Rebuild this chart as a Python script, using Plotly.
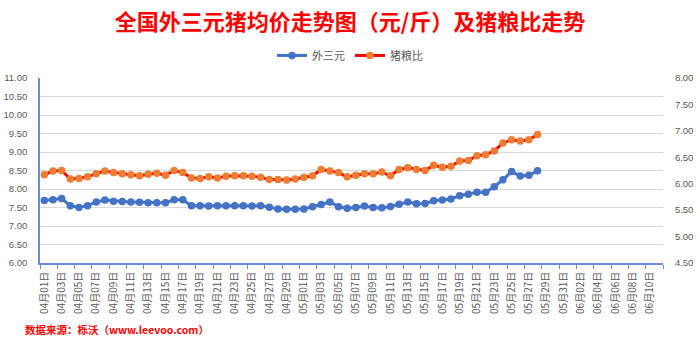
import plotly.graph_objects as go
import pandas as pd

# Categories: 04-01 .. 06-11
dates = [d.strftime("%m月%d日") for d in pd.date_range("2023-04-01", "2023-06-11")]

# 外三元 均价 (元/斤), 04-01 .. 05-28
price = [7.69, 7.71, 7.74, 7.55, 7.50, 7.55, 7.65, 7.70, 7.67, 7.66,
         7.65, 7.64, 7.63, 7.63, 7.63, 7.71, 7.71, 7.55, 7.55, 7.54,
         7.55, 7.55, 7.55, 7.55, 7.54, 7.55, 7.51, 7.46, 7.45, 7.45,
         7.46, 7.52, 7.58, 7.65, 7.52, 7.48, 7.50, 7.54, 7.50, 7.49,
         7.53, 7.59, 7.65, 7.60, 7.61, 7.68, 7.70, 7.73, 7.82, 7.86,
         7.91, 7.91, 8.06, 8.25, 8.47, 8.35, 8.37, 8.49]

# 猪粮比
ratio = [6.17, 6.24, 6.25, 6.09, 6.10, 6.13, 6.19, 6.24, 6.21, 6.19,
         6.17, 6.15, 6.18, 6.20, 6.16, 6.25, 6.21, 6.11, 6.10, 6.13,
         6.11, 6.14, 6.15, 6.15, 6.14, 6.12, 6.08, 6.08, 6.07, 6.09,
         6.12, 6.15, 6.27, 6.24, 6.21, 6.13, 6.16, 6.19, 6.19, 6.22,
         6.15, 6.27, 6.30, 6.27, 6.25, 6.35, 6.31, 6.33, 6.43, 6.44,
         6.53, 6.55, 6.62, 6.77, 6.83, 6.81, 6.83, 6.93]

title_text = "全国外三元猪均价走势图（元/斤）及猪粮比走势"
source_text = "数据来源：栎沃（www.leevoo.com）"

FONT = "Liberation Sans, Noto Sans CJK SC, sans-serif"
CJK = "Noto Sans CJK SC, sans-serif"
GRAY = "#595959"
AXIS_BLUE = "#6A8ED6"
CLEAR = "rgba(0,0,0,0)"

fig = go.Figure()
fig.add_trace(go.Scatter(
    x=dates[:len(price)], y=price, name="外三元", mode="lines+markers",
    line=dict(color="#4472C4", width=3),
    marker=dict(color="#4472C4", size=7.5, line=dict(width=0)),
    yaxis="y"))
fig.add_trace(go.Scatter(
    x=dates[:len(ratio)], y=ratio, name="猪粮比", mode="lines+markers",
    line=dict(color="#FF0000", width=3),
    marker=dict(color="#ED7D31", size=7.5, line=dict(width=0)),
    yaxis="y2"))

fig.update_layout(
    width=700, height=343,
    margin=dict(l=40, r=37, t=78, b=80, pad=0),
    paper_bgcolor="white", plot_bgcolor="white",
    font=dict(family=FONT, color=GRAY, size=10),
    title=dict(text="<b>" + title_text + "</b>", x=0.5, xanchor="center",
               y=1 - 22 / 343, yanchor="middle", yref="container",
               font=dict(family=CJK, size=22, color="#FF0000")),
    showlegend=True,
    legend=dict(orientation="h", x=0.4976, xanchor="center", y=1.122, yanchor="middle",
                font=dict(family=CJK, size=11, color=GRAY), itemwidth=30,
                bgcolor=CLEAR),
    xaxis=dict(type="category", categoryorder="array", categoryarray=dates,
               range=[-0.5, len(dates) - 0.5], tick0=0, dtick=2,
               tickson="boundaries", ticks="outside", ticklen=4, tickcolor=AXIS_BLUE,
               ticklabelstandoff=3, automargin=False,
               tickangle=-90, tickfont=dict(family=CJK, size=10, color=GRAY),
               showline=True, linecolor=AXIS_BLUE, linewidth=1.5,
               showgrid=False, zeroline=False, fixedrange=True),
    yaxis=dict(range=[6, 11], dtick=0.5, tickformat=".2f",
               showgrid=True, gridcolor="#D9D9D9", gridwidth=1,
               showline=True, linecolor=AXIS_BLUE, linewidth=1.5,
               ticks="outside", ticklen=4, tickcolor=CLEAR, zeroline=False,
               ticklabelstandoff=5, automargin=False,
               tickfont=dict(family=FONT, size=9.5, color=GRAY)),
    yaxis2=dict(range=[4.5, 8], dtick=0.5, tickformat=".2f", overlaying="y", side="right",
                showgrid=False, showline=False, ticks="outside", ticklen=4,
                tickcolor=CLEAR, zeroline=False, ticklabelstandoff=5, automargin=False,
                tickfont=dict(family=FONT, size=9.5, color=GRAY)),
)

fig.add_annotation(text="<b>" + source_text + "</b>", xref="paper", yref="paper",
                   x=-0.028, xanchor="left", y=-0.357, yanchor="middle", showarrow=False,
                   font=dict(family=CJK, size=10.5, color="#FF0000"))

fig.write_html("out.html")
